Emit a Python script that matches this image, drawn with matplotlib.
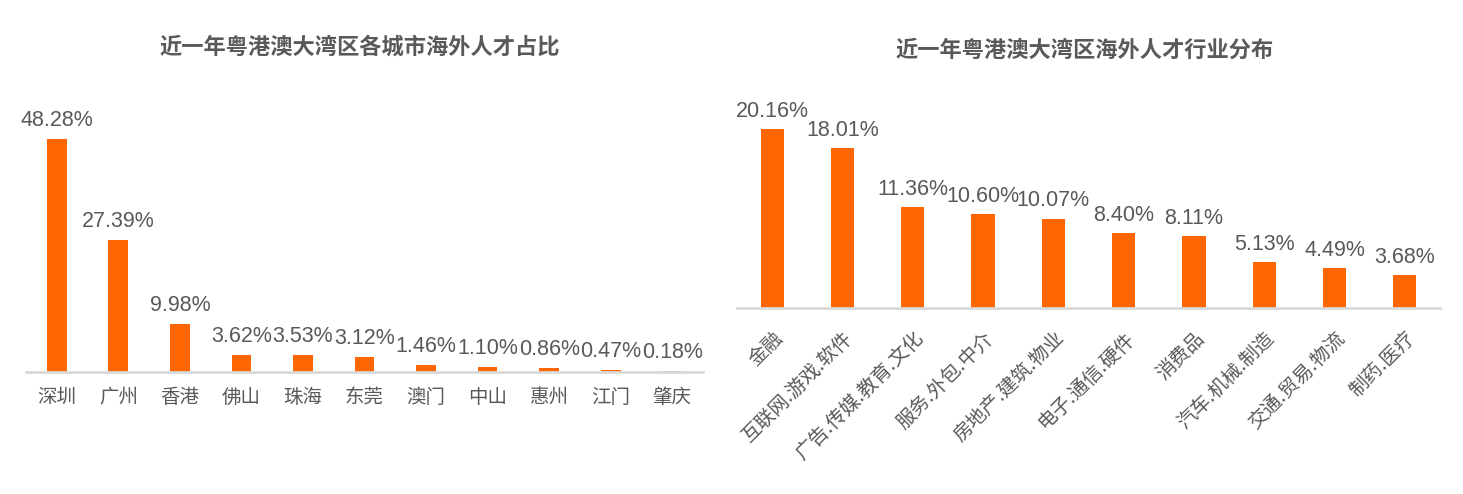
import matplotlib
matplotlib.use("Agg")
import matplotlib.pyplot as plt

plt.rcParams["font.family"] = ["Noto Sans CJK SC", "DejaVu Sans"]

# data
cities = ["深圳", "广州", "香港", "佛山", "珠海", "东莞", "澳门", "中山", "惠州", "江门", "肇庆"]
city_share = [48.28, 27.39, 9.98, 3.62, 3.53, 3.12, 1.46, 1.10, 0.86, 0.47, 0.18]

industries = ["金融", "互联网.游戏.软件", "广告.传媒.教育.文化", "服务.外包.中介",
              "房地产.建筑.物业", "电子.通信.硬件", "消费品", "汽车.机械.制造",
              "交通.贸易.物流", "制药.医疗"]
industry_share = [20.16, 18.01, 11.36, 10.60, 10.07, 8.40, 8.11, 5.13, 4.49, 3.68]

BAR = "#FF6600"
GREY = "#595959"
W, H = 1463, 494


def style_axes(ax):
    for s in ["top", "left", "right"]:
        ax.spines[s].set_visible(False)
    ax.spines["bottom"].set_color("#d9d9d9")
    ax.spines["bottom"].set_linewidth(2)
    ax.set_yticks([])
    ax.tick_params(axis="x", length=0, colors=GREY)


def add_labels(ax, xs, vals, pad):
    for x, v in zip(xs, vals):
        ax.text(x, v + pad, f"{v:.2f}%", ha="center", va="bottom",
                fontsize=15.5, color=GREY, family=["Liberation Sans"])


fig = plt.figure(figsize=(W / 100, H / 100), dpi=100)

# left chart
ax1 = fig.add_axes([26 / W, (H - 372) / H, (703 - 26) / W, (372 - 100) / H])
x1 = range(len(cities))
ax1.bar(x1, city_share, width=0.32, color=BAR)
ax1.set_xlim(-0.5, len(cities) - 0.5)
ax1.set_ylim(0, 272 / 4.83)
style_axes(ax1)
ax1.set_xticks(list(x1))
ax1.set_xticklabels(cities, fontsize=14, color=GREY)
ax1.tick_params(axis="x", pad=11)
add_labels(ax1, x1, city_share, 1.6)
fig.text(360 / W, 1 - 47 / H, "近一年粤港澳大湾区各城市海外人才占比", ha="center", va="center",
         fontsize=16, fontweight="bold", color=GREY)

# right chart
ax2 = fig.add_axes([737 / W, (H - 308) / H, (1440 - 737) / W, (308 - 100) / H])
x2 = range(len(industries))
ax2.bar(x2, industry_share, width=0.33, color=BAR)
ax2.set_xlim(-0.5, len(industries) - 0.5)
ax2.set_ylim(0, 208 / 8.88)
style_axes(ax2)
ax2.set_xticks(list(x2))
ax2.set_xticklabels(industries, fontsize=14, color=GREY, rotation=45,
                    ha="right", rotation_mode="anchor")
ax2.tick_params(axis="x", pad=14)
add_labels(ax2, x2, industry_share, 0.8)
fig.text(1085 / W, 1 - 50 / H, "近一年粤港澳大湾区海外人才行业分布", ha="center", va="center",
         fontsize=16, fontweight="bold", color=GREY)

fig.savefig("out.png", dpi=100, facecolor="white")
